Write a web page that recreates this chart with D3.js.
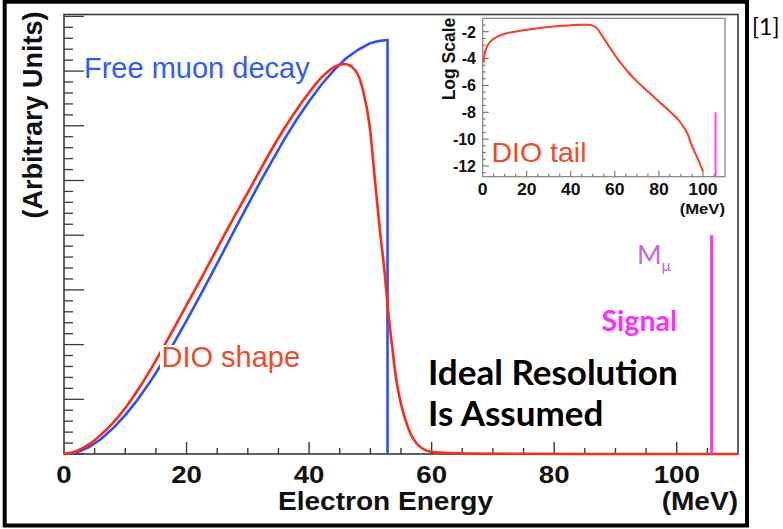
<!DOCTYPE html>
<html><head><meta charset="utf-8">
<script src="https://cdn.jsdelivr.net/npm/d3@7"></script>
<style>body{margin:0;background:#fff}svg{display:block}</style>
</head><body><svg id="c" width="783" height="529"></svg>
<script>
// ---------- data ----------
const freeE   = [0,1,2,3,4,6,8,10,12,14,16,18,20,22,24,26,28,30,32,34,36,38,40,42,44,46,48,50,51,52,52.8,52.8];
const freeVal = [0,0.008,0.03,0.07,0.12,0.27,0.47,0.71,0.99,1.31,1.66,2.04,2.44,2.85,3.27,3.70,4.13,4.55,4.97,5.37,5.76,6.12,6.45,6.75,7.01,7.23,7.39,7.51,7.54,7.56,7.57,0];

const dioE   = [0,2,4,6,8,10,12,14,16,18,20,22,24,26,28,30,32,34,36,38,40,42,44,45.8,47.5,48.8,49.9,50.7,51.5,52.4,52.9,53.5,54.2,55.0,55.8,56.6,57.5,58.5,59.5,62,66,75,90,110];
const dioVal = [0,0.05,0.17,0.35,0.57,0.84,1.16,1.52,1.91,2.31,2.72,3.13,3.55,3.97,4.38,4.78,5.19,5.59,5.96,6.30,6.61,6.88,7.07,7.13,7.02,6.65,5.98,5.07,4.15,3.24,2.62,2.02,1.38,0.92,0.6,0.36,0.2,0.1,0.05,0.02,0.01,0.004,0,0];

const tailE   = [0.3,1,2,4,7,10,15,20,25,30,35,40,45,48,50,52,54,57,60,63,66,70,75,80,85,90,93,95,97.5,100];
const tailLog = [-4.3,-3.6,-3.1,-2.65,-2.35,-2.15,-1.98,-1.85,-1.74,-1.65,-1.58,-1.52,-1.48,-1.48,-1.55,-1.75,-2.25,-3.0,-3.75,-4.4,-5.0,-5.7,-6.45,-7.2,-7.95,-8.8,-9.6,-10.5,-11.4,-12.4];

const xMajorTicks = [0,20,40,60,80,100];
const insetXTicks = [0,20,40,60,80,100];
const insetYTicks = [-2,-4,-6,-8,-10,-12];
const signalE = 105.7;          // muon mass line
const signalHeight = 4;         // main plot, arbitrary units
const insetSignalTop = -8;      // inset, log scale

// ---------- setup ----------
const svg = d3.select("#c");
const BOLD = "'Liberation Sans', Arial, Helvetica, sans-serif";
const SANS = "'Liberation Sans', Arial, Helvetica, sans-serif";
const CAL  = "Lato, 'Open Sans', sans-serif";

svg.append("rect").attr("width",783).attr("height",529).attr("fill","#fff");

const x = d3.scaleLinear().domain([0,110]).range([64,738]);
const y = d3.scaleLinear().domain([0,8]).range([454,16.4]);

function stretchText(g, tx, ty, txt, size, sx, anchor, weight, color, family){
  return g.append("text")
    .attr("transform",`translate(${tx},${ty}) scale(${sx},1)`)
    .attr("text-anchor",anchor).attr("font-size",size)
    .attr("font-weight",weight).attr("fill",color)
    .attr("font-family",family).text(txt);
}

// outer black frame
svg.append("rect").attr("x",4.7).attr("y",1.7).attr("width",742.3).attr("height",523.8)
  .attr("fill","none").attr("stroke","#000").attr("stroke-width",4);

// main plot frame
const axisCol = "#3a3a3a";
svg.append("rect").attr("x",x(0)).attr("y",14.5).attr("width",x(110)-x(0)).attr("height",y(0)-14.5)
  .attr("fill","none").attr("stroke",axisCol).attr("stroke-width",1.6);

// left ticks
const yMinor = d3.range(0,8.001,0.2);
svg.append("g").selectAll("line").data(yMinor).join("line")
  .attr("x1",x(0)).attr("x2",d=>Math.abs(d-Math.round(d))<1e-6? x(0)+20 : x(0)+9)
  .attr("y1",d=>y(d)).attr("y2",d=>y(d))
  .attr("stroke",axisCol).attr("stroke-width",1.3);

// bottom ticks
const xMinor = d3.range(5,110,5);
svg.append("g").selectAll("line").data(xMinor).join("line")
  .attr("x1",d=>x(d)).attr("x2",d=>x(d))
  .attr("y1",y(0)).attr("y2",d=>d%20===0? y(0)-12 : y(0)-6)
  .attr("stroke",axisCol).attr("stroke-width",1.4);

// x tick labels
const xl = svg.append("g");
xMajorTicks.forEach(t=>stretchText(xl, x(t), 483, String(t), 23, 1.2, "middle", "bold", "#111", BOLD));
stretchText(svg, 278, 510, "Electron Energy", 25.5, 1.1, "start", "bold", "#111", BOLD);
stretchText(svg, 738, 510, "(MeV)", 25.5, 1.1, "end", "bold", "#111", BOLD);

// y label
svg.append("text").attr("transform","translate(41.5,115) rotate(-90)")
  .attr("text-anchor","middle").attr("font-size",27).attr("font-weight","bold")
  .attr("font-family",BOLD).attr("fill","#111").text("(Arbitrary Units)");

// curves
const freePts = freeE.map((e,i)=>[e,freeVal[i]]);
const dioPts  = dioE.map((e,i)=>[e,dioVal[i]]);
svg.append("path").attr("d",d3.line().x(d=>x(d[0])).y(d=>y(d[1])).curve(d3.curveLinear)(freePts))
  .attr("fill","none").attr("stroke","#2b4fff").attr("stroke-width",2.6).attr("stroke-linejoin","round");
svg.append("path").attr("d",d3.line().x(d=>x(d[0])).y(d=>y(d[1])).curve(d3.curveMonotoneX)(dioPts))
  .attr("fill","none").attr("stroke","#ff2a14").attr("stroke-width",2.6);

// signal line
svg.append("line").attr("x1",x(signalE)).attr("x2",x(signalE))
  .attr("y1",y(0)).attr("y2",y(signalHeight))
  .attr("stroke","#ff2cff").attr("stroke-width",3);

// white box behind "DIO shape"
svg.append("rect").attr("x",160).attr("y",345).attr("width",142).attr("height",24).attr("fill","#fff");

// labels
svg.append("text").attr("x",84).attr("y",78).attr("font-size",29).attr("font-family",SANS)
  .attr("fill","#2b5cff").text("Free muon decay");
svg.append("text").attr("x",161.5).attr("y",366.5).attr("font-size",29).attr("font-family",SANS)
  .attr("fill","#f04a28").text("DIO shape");
svg.append("text").attr("x",428).attr("y",385).attr("font-size",35).attr("font-weight","bold")
  .attr("font-family",CAL).attr("fill","#000").text("Ideal Resolution");
svg.append("text").attr("x",428).attr("y",426).attr("font-size",35).attr("font-weight","bold")
  .attr("font-family",CAL).attr("fill","#000").text("Is Assumed");
svg.append("text").attr("x",677).attr("y",331).attr("text-anchor","end").attr("font-size",28.5)
  .attr("font-weight","bold").attr("font-family",CAL).attr("fill","#ff2cff").text("Signal");
const mt = svg.append("text").attr("x",637).attr("y",264).attr("font-size",26.5)
  .attr("font-family",CAL).attr("fill","#c765dd");
mt.append("tspan").text("M");
mt.append("tspan").attr("font-size",16).attr("dy",7).text("μ");
svg.append("text").attr("x",752).attr("y",35).attr("font-size",23).attr("font-family",CAL)
  .attr("fill","#000").text("[1]");

// ---------- inset ----------
const xi = d3.scaleLinear().domain([0,110]).range([482.7,725]);
const yi = d3.scaleLinear().domain([-12.8,-1]).range([176.7,18.3]);
const ig = svg.append("g");
ig.append("rect").attr("x",xi(0)).attr("y",yi(-1)).attr("width",xi(110)-xi(0)).attr("height",yi(-12.8)-yi(-1))
  .attr("fill","#fff").attr("stroke","#8a8a8a").attr("stroke-width",1.3);
ig.selectAll(".iy").data(d3.range(-12.5,-1.01,0.5)).join("line")
  .attr("x1",xi(0)).attr("x2",d=>d%2===0? xi(0)+6 : xi(0)+3)
  .attr("y1",d=>yi(d)).attr("y2",d=>yi(d)).attr("stroke","#666").attr("stroke-width",1);
ig.selectAll(".ix").data(d3.range(5,110,5)).join("line")
  .attr("x1",d=>xi(d)).attr("x2",d=>xi(d))
  .attr("y1",yi(-12.8)).attr("y2",d=>d%20===0? yi(-12.8)-6 : yi(-12.8)-3)
  .attr("stroke","#666").attr("stroke-width",1);
insetYTicks.forEach(t=>{
  ig.append("text").attr("x",476).attr("y",yi(t)+5.8).attr("text-anchor","end")
    .attr("font-size",16).attr("font-weight","bold").attr("font-family",BOLD).attr("fill","#111").text(t);
});
insetXTicks.forEach(t=>stretchText(ig, xi(t), 195, String(t), 16, 1.1, "middle", "bold", "#111", BOLD));
stretchText(ig, 725, 213.5, "(MeV)", 14.5, 1.15, "end", "bold", "#111", BOLD);
ig.append("text").attr("transform","translate(455,59) rotate(-90)").attr("text-anchor","middle")
  .attr("font-size",17.5).attr("font-weight","bold").attr("font-family",BOLD).attr("fill","#111").text("Log Scale");
const tailPts = tailE.map((e,i)=>[e,tailLog[i]]);
ig.append("path").attr("d",d3.line().x(d=>xi(d[0])).y(d=>yi(d[1])).curve(d3.curveMonotoneX)(tailPts))
  .attr("fill","none").attr("stroke","#ff3a1e").attr("stroke-width",2);
ig.append("line").attr("x1",xi(signalE)).attr("x2",xi(signalE)).attr("y1",yi(-12.8)).attr("y2",yi(insetSignalTop))
  .attr("stroke","#ff44ff").attr("stroke-width",2);
ig.append("text").attr("x",491.5).attr("y",161.5).attr("font-size",28.5).attr("font-family",SANS)
  .attr("fill","#f04a28").text("DIO tail");
</script></body></html>
